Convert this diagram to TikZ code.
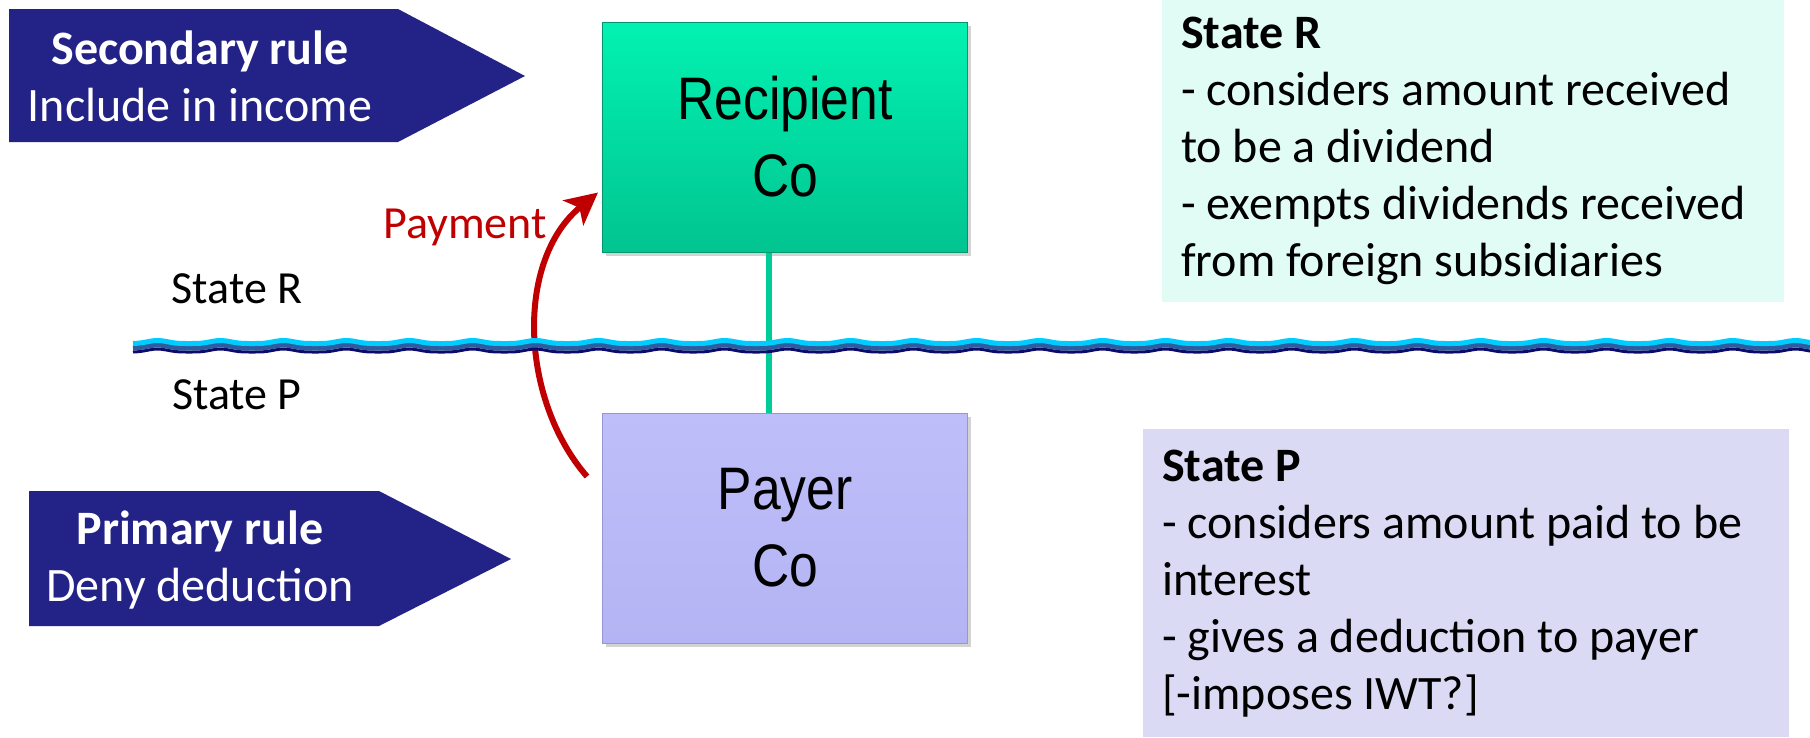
\documentclass[tikz,border=0pt]{standalone}
\usepackage{fontspec}
\setmainfont{Carlito}
\newfontfamily\cofont[FakeStretch=0.86]{Liberation Sans}
\usepackage{tikz}
\usetikzlibrary{arrows.meta,shadows,positioning}
\definecolor{rulefill}{RGB}{35,35,135}
\definecolor{recipfill}{RGB}{2,242,178}
\definecolor{recipdark}{RGB}{2,196,144}
\definecolor{recipline}{RGB}{0,150,112}
\definecolor{payerfill}{RGB}{190,190,250}
\definecolor{payerdark}{RGB}{180,180,244}
\definecolor{payerline}{RGB}{150,150,210}
\definecolor{tieline}{RGB}{0,204,153}
\definecolor{payline}{RGB}{192,0,0}
\definecolor{rnotefill}{RGB}{224,252,245}
\definecolor{pnotefill}{RGB}{218,218,245}
\definecolor{wavelight}{RGB}{0,204,255}
\definecolor{wavemid}{RGB}{46,92,158}
\definecolor{wavedark}{RGB}{11,11,107}

\begin{document}
\begin{tikzpicture}[x=1pt,y=-1pt]
\tikzset{cobox/.style={rectangle, minimum width=365pt, minimum height=230pt, line width=1pt,
  drop shadow={shadow xshift=3pt,shadow yshift=-4pt,opacity=.35},
  font=\cofont\fontsize{60}{77}\selectfont, align=center},
ruletext/.style={text=white, align=center, font=\fontsize{48}{57}\selectfont},
notebox/.style={rectangle, anchor=north west, inner sep=0pt},
notetext/.style={anchor=west, align=left, inner sep=0pt, font=\fontsize{48}{57}\selectfont},
statetext/.style={font=\fontsize{46}{55}\selectfont},
wave/.style={line join=round}}
\useasboundingbox (0,0) rectangle (1810,737);

\fill[rulefill] (9,9) -- (398,9) -- (525,76) -- (398,142) -- (9,142) -- cycle;
\node (secrule) at (200,76) [ruletext] {\textbf{Secondary rule}\\Include in income};
\fill[rulefill] (29,491) -- (379,491) -- (511,559) -- (379,626) -- (29,626) -- cycle;
\node (primrule) at (200,560) [ruletext] {\textbf{Primary rule}\\Deny deduction};

\node (recip) at (785,137) [cobox, top color=recipfill, bottom color=recipdark, draw=recipline] {Recipient\\Co};
\node (payer) at (785,528) [cobox, top color=payerfill, bottom color=payerdark, draw=payerline] {Payer\\Co};

\draw[tieline, line width=6pt] ([xshift=-16pt]recip.south) -- ([xshift=-16pt]payer.north);
\draw[payline, line width=6pt, -{Stealth[length=32pt,width=32pt,inset=8pt]}]
  ([xshift=-15pt,yshift=-64pt]payer.north west) .. controls +(-67,-77) and +(-83,68) .. ([xshift=-4pt,yshift=60pt]recip.south west);
\node (paylabel) at (465,227) [statetext, text=payline] {Payment};

\draw[wave, wavedark, line width=3pt] plot[domain=133:1810, samples=400] (\x,{352-3*(sin(\x*2.857)*sin(\x*2.857))^2});
\draw[wave, wavemid, line width=5pt] plot[domain=133:1810, samples=400] (\x,{348-3*(sin(\x*2.857)*sin(\x*2.857))^2});
\draw[wave, wavelight, line width=5pt] plot[domain=133:1810, samples=400] (\x,{343.5-3*(sin(\x*2.857)*sin(\x*2.857))^2});

\node (rlabel) at (237,289) [statetext] {State R};
\node (plabel) at (237,395) [statetext] {State P};

\node (rnote) at (1162,0) [notebox, fill=rnotefill, minimum width=622pt, minimum height=302pt] {};
\node (rtext) at ([xshift=19pt]rnote.west) [notetext] {\textbf{State R}\\- considers amount received\\to be a dividend\\- exempts dividends received\\from foreign subsidiaries};
\node (pnote) at (1143,429) [notebox, fill=pnotefill, minimum width=646pt, minimum height=308pt] {};
\node (ptext) at ([xshift=19pt]pnote.west) [notetext] {\textbf{State P}\\- considers amount paid to be\\interest\\- gives a deduction to payer\\{[}-imposes IWT?{]}};

\end{tikzpicture}
\end{document}
